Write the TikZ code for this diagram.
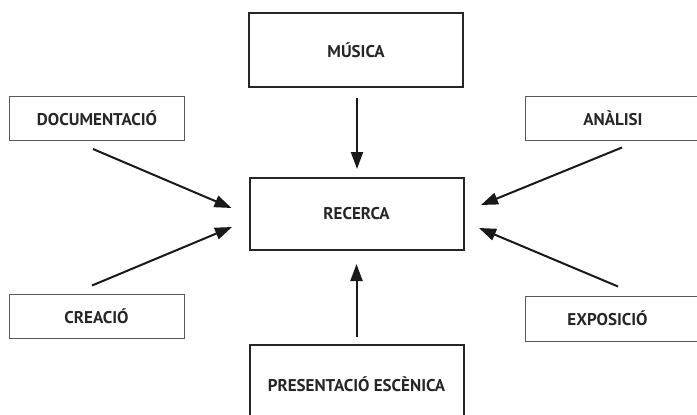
\documentclass[tikz,border=0pt]{standalone}
\usepackage{fontspec}
\setmainfont{PT Sans}
\usetikzlibrary{arrows.meta,calc}
\begin{document}
\begin{tikzpicture}[x=1pt,y=-1pt,
  lbl/.style={font=\bfseries\fontsize{17}{20}\selectfont, text=black!85},
  bigbox/.style={lbl, draw=black!85, line width=2pt, minimum width=214pt, inner sep=0pt},
  smallbox/.style={lbl, draw=black!65, line width=1pt, minimum width=175pt, minimum height=44pt, inner sep=0pt},
  arr/.style={line width=2pt, draw=black!90, -{Triangle[length=17pt,width=12pt]}}]
\useasboundingbox (0,0) rectangle (697,415);
\fill[white] (0,0) rectangle (697,415);
\node[bigbox, minimum height=74pt] (mus) at (356,50) {MÚSICA};
\node[bigbox, minimum height=72pt] (rec) at (356.5,214) {RECERCA};
\node[bigbox, minimum height=78pt] (pres) at (356.5,384) {PRESENTACIÓ ESCÈNICA};
\node[smallbox] (doc) at (97,118.5) {DOCUMENTACIÓ};
\node[smallbox] (cre) at (96.5,316) {CREACIÓ};
\node[smallbox] (ana) at (613,118) {ANÀLISI};
\node[smallbox, minimum height=45pt] (expo) at (613,318.5) {EXPOSICIÓ\hspace*{11pt}};
\draw[arr] ($(mus.south)+(1,10)$) -- ($(rec.north)+(0.5,-8)$);
\draw[arr] ($(pres.north)+(0,-7)$) -- ($(rec.south)+(0,13)$);
\draw[arr] ($(doc.south)+(-4,8)$) -- ($(rec.west)+(-17,-6)$);
\draw[arr] ($(cre.north)+(-4.5,-8)$) -- ($(rec.west)+(-16.5,13)$);
\draw[arr] ($(ana.south)+(9,7)$) -- ($(rec.east)+(16.5,-9)$);
\draw[arr] ($(expo.north)+(5,-9)$) -- ($(rec.east)+(14.5,14)$);
\end{tikzpicture}
\end{document}
